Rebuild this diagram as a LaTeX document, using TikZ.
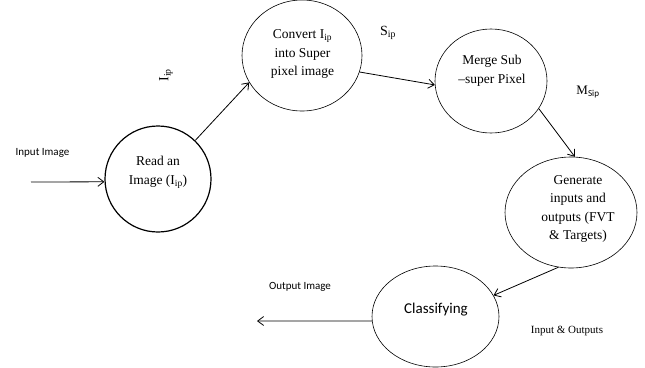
\documentclass[tikz,border=0pt]{standalone}
\usepackage{fontspec}
\setmainfont{Liberation Serif}
\newfontfamily\calibri{Carlito}
\usetikzlibrary{shapes.geometric,arrows.meta}

\begin{document}
\begin{tikzpicture}[x=1pt,y=-1pt,
                    arrow/.style = {line width=0.8pt,-{Straight Barb[length=6pt,width=9pt]}},
                    bubble/.style = {draw,ellipse,line width=0.6pt,inner sep=0pt},
                    txt/.style = {align=center,font=\fontsize{13.5}{18.5}\selectfont},
                    lbl/.style = {font=\calibri\fontsize{11}{13}\selectfont}]
    \useasboundingbox (0,0) rectangle (645,367);

    % the five steps
    \node[bubble,line width=1.2pt,minimum width=106pt,minimum height=106pt] (read) at (158,179) {};
    \node[bubble,minimum width=120pt,minimum height=111pt] (conv) at (302,55.5) {};
    \node[bubble,minimum width=112pt,minimum height=104pt] (merge) at (491,81) {};
    \node[bubble,minimum width=132pt,minimum height=111pt] (gen) at (571,212.5) {};
    \node[bubble,minimum width=127pt,minimum height=101pt] (class) at (435.5,316.5) {};

    \node[txt] (readtxt)  at (158,172.5) {Read an\\Image (I\textsubscript{ip})};
    \node[txt] (convtxt)  at (302.5,54)  {Convert I\textsubscript{ip}\\into Super\\pixel image};
    \node[txt] (mergetxt) at (492,71)    {Merge Sub\\–super Pixel};
    \node[txt] (gentxt)   at (578,209)   {Generate\\inputs and\\outputs (FVT\\\& Targets)};
    \node[font=\calibri\fontsize{15}{18}\selectfont] (classtxt) at (436,310) {Classifying};

    % labels
    \node[lbl] (inlbl)  at (42.5,153) {Input Image};
    \node[lbl] (outlbl) at (300,287)  {Output Image};
    \node[rotate=90,font=\fontsize{14}{16}\selectfont] (iip) at (166,75) {I\textsubscript{ip}};
    \node[font=\fontsize{14}{16}\selectfont] (sip) at (388,33) {S\textsubscript{ip}};
    \node[font=\fontsize{13}{16}\selectfont] (msip) at (588,92) {M\textsubscript{\calibri Sip}};
    \node[font=\fontsize{11}{13}\selectfont] (iolbl) at (567,331.5) {Input \& Outputs};

    % flow
    \coordinate (in)  at (31,182);
    \coordinate (out) at (257,321);
    \draw[arrow] (in) -- (read.183);
    \draw[arrow] (read.46) -- (conv.207.4);
    \draw[arrow] (conv.344.6) -- (merge.184);
    \draw[arrow] (merge.330) -- (gen.86);
    \draw[arrow] (gen.257) -- (class.20.5);
    \draw[arrow] (class.184) -- (out);
\end{tikzpicture}
\end{document}
